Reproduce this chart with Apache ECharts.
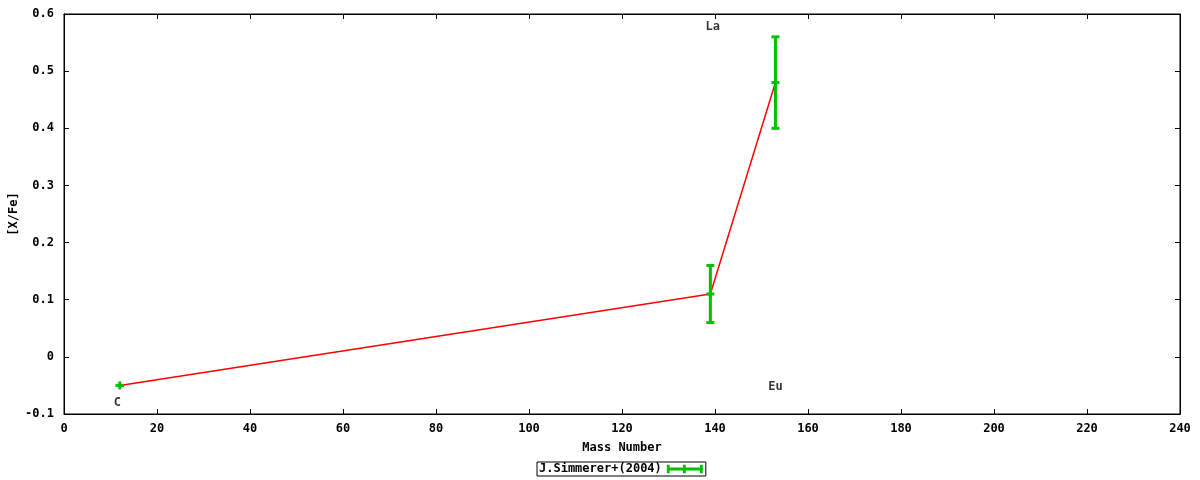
<!DOCTYPE html>
<html>
<head>
<meta charset="utf-8">
<script src="https://cdn.jsdelivr.net/npm/echarts@6/dist/echarts.min.js"></script>
<style>
  html, body { margin: 0; padding: 0; background: #fff; }
  #chart { width: 1200px; height: 480px; }
</style>
</head>
<body>
<div id="chart"></div>
<script>
// data
const massNumbers = [12, 139, 153];
const xFe = [-0.05, 0.11, 0.48];
const errLow = [-0.05, 0.06, 0.40];
const errHigh = [-0.05, 0.16, 0.56];

const elementNames = ['C', 'La', 'Eu'];
const labelX = [11.5, 139.5, 153];
const labelY = [-0.081, 0.578, -0.053];

const seriesName = 'J.Simmerer+(2004)';
const FONT = 'DejaVu Sans Mono';
const GREEN = '#00c000';

const chart = echarts.init(document.getElementById('chart'));

const lineData = massNumbers.map((m, i) => [m, xFe[i]]);
const errData = massNumbers.map((m, i) => [m, xFe[i], errLow[i], errHigh[i]]);
const labelData = elementNames.map((n, i) => ({ value: [labelX[i], labelY[i]], name: n }));

// 误差棒 + 点标记('+')
function renderErr(params, api) {
  const x = api.value(0);
  const p = api.coord([x, api.value(1)]);
  const lo = api.coord([x, api.value(2)]);
  const hi = api.coord([x, api.value(3)]);
  const w = 4;
  const style = { stroke: GREEN, lineWidth: 3, fill: null };
  const seg = (x1, y1, x2, y2) => ({ type: 'line', shape: { x1, y1, x2, y2 }, style });
  return {
    type: 'group',
    children: [
      seg(lo[0], lo[1], hi[0], hi[1]),
      seg(lo[0] - w, lo[1], lo[0] + w, lo[1]),
      seg(hi[0] - w, hi[1], hi[0] + w, hi[1]),
      seg(p[0] - w, p[1], p[0] + w, p[1]),
      seg(p[0], p[1] - w, p[0], p[1] + w)
    ]
  };
}

const axisText = { fontFamily: FONT, fontWeight: 'bold', fontSize: 12, color: '#000' };
const tickIn = { show: true, inside: true, length: 5, lineStyle: { color: '#000', width: 1 } };
const blackLine = { show: true, onZero: false, lineStyle: { color: '#000', width: 1 } };

const option = {
  animation: false,
  backgroundColor: '#fff',
  grid: {
    left: 64, right: 20, top: 14, bottom: 66,
    outerBoundsMode: 'none', containLabel: false,
    show: true, borderColor: '#000', borderWidth: 1
  },
  xAxis: [
    {
      type: 'value', min: 0, max: 240, interval: 20, position: 'bottom',
      name: 'Mass Number', nameLocation: 'middle', nameGap: 28, nameMoveOverlap: false,
      nameTextStyle: axisText,
      axisLine: blackLine, axisTick: tickIn, splitLine: { show: false },
      axisLabel: Object.assign({ margin: 9 }, axisText)
    },
    {
      type: 'value', min: 0, max: 240, interval: 20, position: 'top',
      axisLine: blackLine, axisTick: tickIn, splitLine: { show: false }, axisLabel: { show: false }
    }
  ],
  yAxis: [
    {
      type: 'value', min: -0.1, max: 0.6, interval: 0.1, position: 'left',
      name: '[X/Fe]', nameLocation: 'middle', nameGap: 44, nameRotate: 90, nameMoveOverlap: false,
      nameTextStyle: axisText,
      axisLine: blackLine, axisTick: tickIn, splitLine: { show: false },
      axisLabel: Object.assign({ margin: 10, formatter: v => String(+v.toFixed(1)) }, axisText)
    },
    {
      type: 'value', min: -0.1, max: 0.6, interval: 0.1, position: 'right',
      axisLine: blackLine, axisTick: tickIn, splitLine: { show: false }, axisLabel: { show: false }
    }
  ],
  legend: {
    data: [{ name: seriesName, icon: 'path://M0,0H3V3H17V0H20V3H35V0H38V9H35V6H20V9H17V6H3V9H0Z' }],
    bottom: 4, left: 537, align: 'right', orient: 'horizontal',
    itemWidth: 36, itemHeight: 9, itemGap: 4,
    borderColor: '#000', borderWidth: 1, padding: [1, 3, 1, 2],
    textStyle: Object.assign({}, axisText, { padding: [0, 0, 0, 0] }),
    itemStyle: { color: GREEN }
  },
  series: [
    {
      type: 'line', name: 'line', data: lineData, symbol: 'none',
      lineStyle: { color: '#ff0000', width: 1.5 }, silent: true, z: 2
    },
    {
      type: 'custom', name: seriesName, data: errData, renderItem: renderErr,
      itemStyle: { color: GREEN }, z: 3,
      encode: { x: 0, y: [1, 2, 3] }
    },
    {
      type: 'scatter', name: 'labels', data: labelData, symbolSize: 0,
      label: Object.assign({ show: true, position: 'inside', formatter: p => p.name }, axisText),
      silent: true
    }
  ]
};

chart.setOption(option);
</script>
</body>
</html>
